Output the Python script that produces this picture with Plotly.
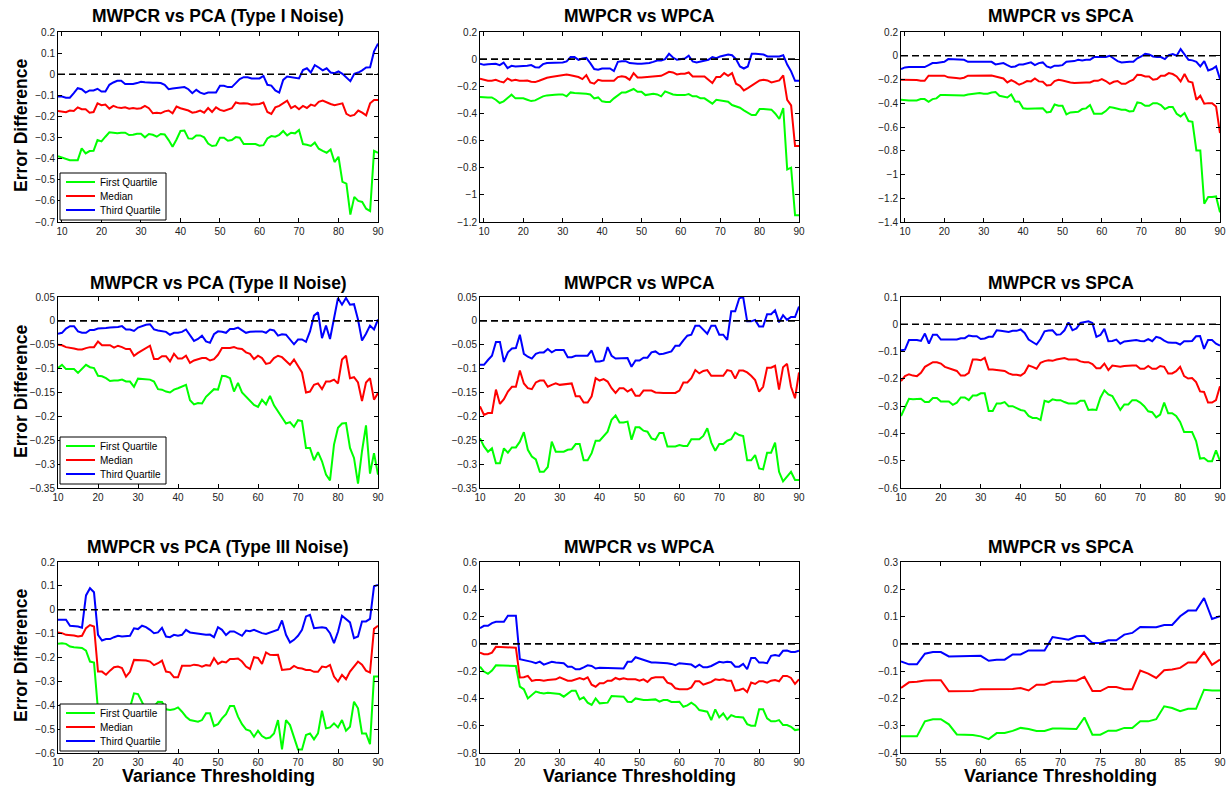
import plotly.graph_objects as go

# ---------------- data ----------------
x_row1 = list(range(9, 91))
x_full = list(range(10, 91))
x_r3c3 = list(range(50, 91))

legend_names = ["First Quartile", "Median", "Third Quartile"]
titles = ["MWPCR vs PCA (Type I Noise)", "MWPCR vs WPCA", "MWPCR vs SPCA",
          "MWPCR vs PCA (Type II Noise)", "MWPCR vs WPCA", "MWPCR vs SPCA",
          "MWPCR vs PCA (Type III Noise)", "MWPCR vs WPCA", "MWPCR vs SPCA"]
y_label = "Error Difference"
x_label = "Variance Thresholding"

# Row 1, col 1
q3_r1c1 = [-0.106, -0.106, -0.111, -0.111, -0.090, -0.066, -0.071, -0.087, -0.077, -0.077,
           -0.069, -0.082, -0.082, -0.050, -0.039, -0.031, -0.031, -0.046, -0.046, -0.046,
           -0.042, -0.036, -0.038, -0.040, -0.040, -0.040, -0.042, -0.050, -0.071, -0.068,
           -0.066, -0.061, -0.061, -0.071, -0.090, -0.074, -0.087, -0.093, -0.087, -0.087,
           -0.087, -0.055, -0.055, -0.061, -0.061, -0.042, -0.023, -0.014, -0.014, -0.020,
           -0.020, -0.020, -0.008, -0.050, -0.054, -0.077, -0.087, -0.027, -0.011, -0.014,
           -0.016, -0.020, 0.020, 0.028, 0.008, 0.043, 0.032, 0.018, 0.028, 0.008,
           0.005, 0.013, 0.002, -0.014, -0.033, 0.002, 0.008, 0.018, 0.032, 0.033,
           0.108, 0.145]
med_r1c1 = [-0.174, -0.177, -0.180, -0.172, -0.174, -0.157, -0.166, -0.166, -0.182, -0.179,
            -0.138, -0.147, -0.144, -0.163, -0.150, -0.157, -0.160, -0.157, -0.163, -0.160,
            -0.163, -0.161, -0.150, -0.161, -0.185, -0.182, -0.185, -0.176, -0.172, -0.185,
            -0.153, -0.161, -0.166, -0.172, -0.182, -0.179, -0.172, -0.182, -0.160, -0.179,
            -0.157, -0.169, -0.174, -0.169, -0.161, -0.134, -0.139, -0.138, -0.139, -0.144,
            -0.142, -0.141, -0.134, -0.179, -0.188, -0.157, -0.150, -0.138, -0.125, -0.161,
            -0.150, -0.166, -0.150, -0.160, -0.144, -0.150, -0.131, -0.125, -0.134, -0.141,
            -0.147, -0.141, -0.138, -0.188, -0.198, -0.193, -0.172, -0.182, -0.195, -0.138,
            -0.122, -0.122]
q1_r1c1 = [-0.388, -0.394, -0.400, -0.407, -0.407, -0.407, -0.351, -0.375, -0.364, -0.363,
           -0.312, -0.318, -0.296, -0.275, -0.277, -0.280, -0.277, -0.277, -0.288, -0.287,
           -0.282, -0.282, -0.299, -0.283, -0.287, -0.296, -0.283, -0.285, -0.312, -0.344,
           -0.309, -0.269, -0.267, -0.304, -0.306, -0.290, -0.290, -0.299, -0.328, -0.340,
           -0.337, -0.301, -0.301, -0.315, -0.312, -0.298, -0.301, -0.331, -0.331, -0.331,
           -0.331, -0.339, -0.336, -0.304, -0.293, -0.296, -0.287, -0.269, -0.290, -0.277,
           -0.280, -0.264, -0.331, -0.334, -0.340, -0.324, -0.353, -0.363, -0.372, -0.356,
           -0.416, -0.391, -0.510, -0.518, -0.665, -0.581, -0.600, -0.605, -0.637, -0.648,
           -0.363, -0.372]

# Row 1, col 2
q3_r1c2 = [-0.034, -0.042, -0.037, -0.034, -0.034, -0.044, -0.025, -0.066, -0.049, -0.054,
           -0.054, -0.049, -0.049, -0.044, -0.059, -0.061, -0.037, -0.029, -0.029, -0.027,
           -0.025, -0.025, -0.017, 0.015, 0.015, -0.005, 0.005, 0.010, -0.029, -0.073,
           -0.078, -0.069, -0.069, -0.069, -0.088, -0.020, -0.015, -0.015, -0.029, -0.034,
           -0.034, -0.034, -0.032, -0.029, -0.020, -0.010, -0.010, 0.000, 0.039, 0.012,
           -0.005, 0.000, 0.005, 0.025, -0.017, -0.025, -0.020, -0.015, -0.005, 0.015,
           0.007, 0.020, 0.025, 0.034, 0.029, 0.000, -0.054, -0.069, -0.054, 0.039,
           0.039, 0.034, 0.034, 0.020, 0.020, 0.020, 0.020, 0.029, -0.040, -0.090,
           -0.160, -0.160]
med_r1c2 = [-0.145, -0.152, -0.159, -0.159, -0.152, -0.164, -0.172, -0.142, -0.159, -0.152,
            -0.159, -0.159, -0.157, -0.167, -0.169, -0.159, -0.145, -0.137, -0.132, -0.127,
            -0.127, -0.118, -0.113, -0.118, -0.127, -0.132, -0.147, -0.118, -0.172, -0.181,
            -0.152, -0.159, -0.159, -0.159, -0.159, -0.132, -0.127, -0.132, -0.152, -0.103,
            -0.135, -0.135, -0.132, -0.130, -0.127, -0.127, -0.123, -0.108, -0.093, -0.098,
            -0.113, -0.108, -0.108, -0.098, -0.127, -0.127, -0.127, -0.127, -0.152, -0.176,
            -0.132, -0.132, -0.103, -0.123, -0.103, -0.181, -0.196, -0.230, -0.213, -0.196,
            -0.176, -0.157, -0.152, -0.157, -0.172, -0.167, -0.157, -0.120, -0.300, -0.340,
            -0.640, -0.640]
q1_r1c2 = [-0.279, -0.282, -0.282, -0.282, -0.299, -0.323, -0.311, -0.287, -0.262, -0.289,
           -0.289, -0.289, -0.299, -0.309, -0.304, -0.289, -0.274, -0.267, -0.262, -0.262,
           -0.260, -0.260, -0.274, -0.245, -0.250, -0.250, -0.255, -0.255, -0.260, -0.289,
           -0.282, -0.311, -0.316, -0.316, -0.289, -0.270, -0.245, -0.245, -0.235, -0.220,
           -0.240, -0.240, -0.265, -0.260, -0.255, -0.260, -0.274, -0.238, -0.250, -0.260,
           -0.265, -0.265, -0.265, -0.257, -0.274, -0.274, -0.289, -0.289, -0.311, -0.328,
           -0.299, -0.304, -0.314, -0.314, -0.338, -0.348, -0.358, -0.377, -0.392, -0.412,
           -0.412, -0.368, -0.368, -0.372, -0.372, -0.402, -0.441, -0.360, -0.813, -0.800,
           -1.150, -1.150]

# Row 1, col 3
q3_r1c3 = [-0.112, -0.098, -0.095, -0.095, -0.095, -0.095, -0.095, -0.079, -0.062, -0.062,
           -0.056, -0.051, -0.028, -0.028, -0.028, -0.028, -0.034, -0.051, -0.051, -0.051,
           -0.051, -0.056, -0.056, -0.051, -0.073, -0.067, -0.062, -0.079, -0.095, -0.090,
           -0.073, -0.073, -0.062, -0.056, -0.079, -0.062, -0.056, -0.090, -0.101, -0.084,
           -0.084, -0.079, -0.051, -0.051, -0.045, -0.034, -0.039, -0.034, -0.034, -0.011,
           -0.011, -0.011, -0.011, 0.000, -0.022, -0.045, -0.056, -0.051, -0.051, -0.051,
           -0.022, -0.006, 0.017, 0.011, -0.006, -0.011, -0.011, -0.028, 0.006, 0.014,
           0.000, 0.056, 0.011, -0.034, -0.039, -0.051, -0.090, -0.045, -0.124, -0.112,
           -0.090, -0.196]
med_r1c3 = [-0.202, -0.202, -0.202, -0.202, -0.205, -0.211, -0.211, -0.168, -0.168, -0.168,
            -0.168, -0.168, -0.182, -0.182, -0.188, -0.191, -0.185, -0.168, -0.168, -0.168,
            -0.168, -0.168, -0.168, -0.166, -0.174, -0.180, -0.191, -0.225, -0.205, -0.222,
            -0.244, -0.230, -0.213, -0.216, -0.191, -0.216, -0.219, -0.250, -0.247, -0.213,
            -0.202, -0.208, -0.219, -0.225, -0.230, -0.227, -0.227, -0.225, -0.225, -0.211,
            -0.211, -0.196, -0.213, -0.236, -0.219, -0.213, -0.236, -0.236, -0.216, -0.202,
            -0.160, -0.163, -0.174, -0.174, -0.202, -0.196, -0.168, -0.168, -0.146, -0.154,
            -0.174, -0.216, -0.154, -0.216, -0.225, -0.371, -0.337, -0.404, -0.399, -0.399,
            -0.427, -0.651]
q1_r1c3 = [-0.371, -0.376, -0.376, -0.376, -0.376, -0.365, -0.365, -0.387, -0.365, -0.359,
           -0.331, -0.331, -0.331, -0.331, -0.331, -0.334, -0.334, -0.326, -0.320, -0.314,
           -0.314, -0.320, -0.320, -0.309, -0.306, -0.337, -0.342, -0.351, -0.326, -0.385,
           -0.387, -0.443, -0.446, -0.446, -0.446, -0.441, -0.443, -0.477, -0.472, -0.410,
           -0.421, -0.421, -0.494, -0.477, -0.472, -0.472, -0.449, -0.443, -0.415, -0.488,
           -0.488, -0.488, -0.466, -0.432, -0.438, -0.449, -0.455, -0.455, -0.469, -0.466,
           -0.393, -0.399, -0.421, -0.421, -0.399, -0.399, -0.415, -0.449, -0.432, -0.432,
           -0.488, -0.511, -0.483, -0.550, -0.556, -0.797, -0.797, -1.246, -1.190, -1.190,
           -1.185, -1.319]

# Row 2, col 1
q3_r2c1 = [-0.027, -0.025, -0.016, -0.011, -0.011, -0.022, -0.025, -0.025, -0.019, -0.019,
           -0.016, -0.016, -0.015, -0.014, -0.014, -0.013, -0.011, -0.018, -0.018, -0.021,
           -0.014, -0.011, -0.008, -0.007, -0.018, -0.020, -0.021, -0.023, -0.029, -0.025,
           -0.025, -0.023, -0.018, -0.031, -0.042, -0.038, -0.031, -0.043, -0.046, -0.028,
           -0.022, -0.023, -0.025, -0.017, -0.017, -0.014, -0.020, -0.025, -0.023, -0.022,
           -0.022, -0.022, -0.025, -0.018, -0.020, -0.031, -0.028, -0.029, -0.038, -0.049,
           -0.039, -0.039, -0.044, -0.022, 0.011, 0.018, -0.036, -0.010, -0.038, 0.004,
           0.048, 0.034, 0.048, 0.034, 0.035, 0.003, -0.041, -0.027, -0.010, -0.018,
           0.003]
med_r2c1 = [-0.050, -0.051, -0.055, -0.056, -0.058, -0.060, -0.060, -0.057, -0.055, -0.055,
            -0.043, -0.051, -0.051, -0.051, -0.056, -0.052, -0.055, -0.059, -0.059, -0.073,
            -0.067, -0.062, -0.058, -0.052, -0.080, -0.080, -0.074, -0.074, -0.085, -0.069,
            -0.079, -0.079, -0.073, -0.088, -0.083, -0.080, -0.078, -0.078, -0.083, -0.080,
            -0.071, -0.057, -0.057, -0.057, -0.055, -0.058, -0.059, -0.066, -0.069, -0.080,
            -0.073, -0.078, -0.090, -0.088, -0.078, -0.073, -0.076, -0.085, -0.092, -0.081,
            -0.095, -0.108, -0.150, -0.148, -0.134, -0.131, -0.143, -0.127, -0.127, -0.123,
            -0.131, -0.081, -0.073, -0.120, -0.118, -0.129, -0.168, -0.129, -0.120, -0.165,
            -0.151]
q1_r2c1 = [-0.099, -0.092, -0.101, -0.101, -0.101, -0.109, -0.101, -0.092, -0.097, -0.099,
           -0.115, -0.116, -0.120, -0.126, -0.125, -0.125, -0.123, -0.127, -0.127, -0.138,
           -0.121, -0.122, -0.123, -0.123, -0.127, -0.143, -0.144, -0.148, -0.150, -0.144,
           -0.141, -0.137, -0.134, -0.166, -0.175, -0.172, -0.173, -0.159, -0.151, -0.143,
           -0.144, -0.115, -0.116, -0.120, -0.148, -0.130, -0.150, -0.158, -0.168, -0.176,
           -0.180, -0.165, -0.175, -0.157, -0.177, -0.189, -0.201, -0.215, -0.212, -0.222,
           -0.208, -0.210, -0.266, -0.266, -0.292, -0.275, -0.294, -0.322, -0.334, -0.259,
           -0.224, -0.215, -0.214, -0.266, -0.287, -0.341, -0.273, -0.219, -0.320, -0.277,
           -0.322]

# Row 2, col 2
q3_r2c2 = [-0.092, -0.092, -0.082, -0.073, -0.044, -0.044, -0.086, -0.066, -0.058, -0.057,
           -0.029, -0.069, -0.075, -0.079, -0.069, -0.066, -0.066, -0.059, -0.066, -0.061,
           -0.061, -0.061, -0.076, -0.076, -0.073, -0.073, -0.073, -0.073, -0.062, -0.085,
           -0.085, -0.083, -0.055, -0.073, -0.079, -0.079, -0.079, -0.078, -0.096, -0.083,
           -0.083, -0.077, -0.077, -0.066, -0.064, -0.070, -0.069, -0.066, -0.064, -0.052,
           -0.052, -0.041, -0.031, -0.029, -0.010, -0.010, -0.019, -0.027, -0.010, -0.010,
           -0.029, -0.029, -0.040, 0.020, 0.020, 0.047, 0.050, -0.001, -0.001, 0.002,
           -0.012, -0.012, 0.014, 0.014, 0.022, -0.003, 0.012, 0.002, 0.008, 0.008,
           0.030]
med_r2c2 = [-0.179, -0.197, -0.193, -0.193, -0.144, -0.174, -0.164, -0.148, -0.138, -0.138,
            -0.104, -0.131, -0.141, -0.143, -0.129, -0.125, -0.125, -0.138, -0.134, -0.131,
            -0.134, -0.133, -0.131, -0.131, -0.158, -0.158, -0.171, -0.171, -0.158, -0.120,
            -0.125, -0.122, -0.127, -0.141, -0.151, -0.141, -0.141, -0.148, -0.143, -0.157,
            -0.157, -0.146, -0.146, -0.146, -0.150, -0.151, -0.151, -0.151, -0.151, -0.151,
            -0.146, -0.129, -0.129, -0.120, -0.103, -0.110, -0.105, -0.103, -0.115, -0.115,
            -0.115, -0.115, -0.103, -0.105, -0.121, -0.104, -0.104, -0.108, -0.115, -0.124,
            -0.148, -0.138, -0.098, -0.098, -0.094, -0.144, -0.097, -0.090, -0.138, -0.162,
            -0.108]
q1_r2c2 = [-0.246, -0.263, -0.274, -0.267, -0.298, -0.298, -0.267, -0.276, -0.265, -0.265,
           -0.253, -0.233, -0.270, -0.284, -0.290, -0.316, -0.316, -0.306, -0.253, -0.274,
           -0.274, -0.274, -0.270, -0.269, -0.258, -0.258, -0.292, -0.292, -0.277, -0.251,
           -0.251, -0.241, -0.232, -0.207, -0.198, -0.213, -0.213, -0.211, -0.249, -0.223,
           -0.223, -0.230, -0.232, -0.246, -0.249, -0.235, -0.235, -0.263, -0.263, -0.263,
           -0.260, -0.262, -0.262, -0.248, -0.248, -0.248, -0.241, -0.225, -0.255, -0.272,
           -0.258, -0.258, -0.251, -0.248, -0.234, -0.239, -0.241, -0.292, -0.292, -0.281,
           -0.309, -0.311, -0.276, -0.276, -0.255, -0.316, -0.336, -0.326, -0.316, -0.333,
           -0.333]

# Row 2, col 3
q3_r2c3 = [-0.095, -0.093, -0.058, -0.058, -0.058, -0.061, -0.034, -0.071, -0.038, -0.038,
           -0.056, -0.056, -0.056, -0.056, -0.056, -0.051, -0.051, -0.041, -0.044, -0.044,
           -0.054, -0.052, -0.046, -0.046, -0.022, -0.024, -0.026, -0.028, -0.024, -0.024,
           -0.019, -0.032, -0.056, -0.066, -0.074, -0.054, -0.026, -0.023, -0.022, -0.038,
           -0.037, -0.022, 0.007, -0.022, -0.015, 0.005, 0.007, 0.011, 0.005, -0.046,
           -0.039, -0.017, -0.062, -0.061, -0.056, -0.071, -0.063, -0.061, -0.058, -0.058,
           -0.061, -0.062, -0.054, -0.062, -0.046, -0.050, -0.060, -0.067, -0.068, -0.068,
           -0.074, -0.062, -0.062, -0.061, -0.044, -0.043, -0.090, -0.058, -0.058, -0.071,
           -0.078]
med_r2c3 = [-0.208, -0.190, -0.183, -0.188, -0.190, -0.178, -0.156, -0.149, -0.139, -0.139,
            -0.144, -0.156, -0.161, -0.168, -0.171, -0.188, -0.188, -0.178, -0.129, -0.129,
            -0.132, -0.123, -0.166, -0.166, -0.168, -0.171, -0.171, -0.180, -0.185, -0.185,
            -0.188, -0.178, -0.151, -0.156, -0.163, -0.141, -0.135, -0.132, -0.134, -0.129,
            -0.127, -0.124, -0.129, -0.129, -0.129, -0.136, -0.139, -0.139, -0.146, -0.161,
            -0.161, -0.144, -0.168, -0.151, -0.153, -0.156, -0.153, -0.151, -0.151, -0.151,
            -0.163, -0.163, -0.153, -0.163, -0.163, -0.153, -0.156, -0.180, -0.180, -0.172,
            -0.156, -0.190, -0.199, -0.197, -0.212, -0.246, -0.248, -0.287, -0.287, -0.278,
            -0.227]
q1_r2c3 = [-0.336, -0.302, -0.273, -0.275, -0.275, -0.273, -0.285, -0.285, -0.270, -0.270,
           -0.283, -0.283, -0.283, -0.295, -0.287, -0.268, -0.268, -0.278, -0.261, -0.261,
           -0.253, -0.253, -0.318, -0.318, -0.290, -0.290, -0.285, -0.300, -0.300, -0.307,
           -0.314, -0.317, -0.336, -0.343, -0.343, -0.351, -0.280, -0.285, -0.275, -0.278,
           -0.278, -0.285, -0.290, -0.290, -0.290, -0.280, -0.280, -0.314, -0.312, -0.314,
           -0.269, -0.242, -0.257, -0.263, -0.290, -0.314, -0.294, -0.294, -0.278, -0.278,
           -0.287, -0.300, -0.319, -0.322, -0.341, -0.331, -0.287, -0.326, -0.326, -0.336,
           -0.358, -0.395, -0.395, -0.395, -0.428, -0.492, -0.490, -0.502, -0.502, -0.462,
           -0.501]

# Row 3, col 1
q3_r3c1 = [-0.042, -0.042, -0.042, -0.067, -0.067, -0.070, -0.075, 0.060, 0.090, 0.073,
           -0.105, -0.129, -0.123, -0.123, -0.115, -0.109, -0.112, -0.109, -0.109, -0.078,
           -0.081, -0.067, -0.073, -0.084, -0.098, -0.095, -0.076, -0.112, -0.115, -0.105,
           -0.109, -0.105, -0.084, -0.095, -0.098, -0.098, -0.104, -0.105, -0.104, -0.115,
           -0.073, -0.084, -0.106, -0.091, -0.091, -0.101, -0.109, -0.087, -0.090, -0.084,
           -0.091, -0.098, -0.101, -0.095, -0.087, -0.084, -0.045, -0.105, -0.137, -0.126,
           -0.109, -0.084, -0.028, -0.021, -0.077, -0.076, -0.073, -0.076, -0.098, -0.140,
           -0.092, -0.025, -0.039, -0.053, -0.119, -0.112, -0.049, -0.049, -0.038, 0.098,
           0.104]
med_r3c1 = [-0.095, -0.098, -0.105, -0.106, -0.108, -0.112, -0.109, -0.077, -0.064, -0.070,
            -0.259, -0.259, -0.272, -0.255, -0.241, -0.238, -0.244, -0.280, -0.260, -0.210,
            -0.210, -0.210, -0.213, -0.217, -0.232, -0.224, -0.213, -0.259, -0.262, -0.283,
            -0.283, -0.235, -0.234, -0.235, -0.230, -0.232, -0.238, -0.232, -0.234, -0.203,
            -0.227, -0.217, -0.221, -0.206, -0.206, -0.204, -0.217, -0.238, -0.248, -0.199,
            -0.202, -0.227, -0.179, -0.189, -0.190, -0.189, -0.252, -0.249, -0.248, -0.235,
            -0.244, -0.246, -0.252, -0.252, -0.260, -0.260, -0.238, -0.241, -0.231, -0.280,
            -0.301, -0.273, -0.291, -0.259, -0.238, -0.217, -0.230, -0.255, -0.263, -0.080,
            -0.067]
q1_r3c1 = [-0.143, -0.140, -0.143, -0.154, -0.157, -0.157, -0.160, -0.171, -0.217, -0.221,
           -0.420, -0.440, -0.450, -0.430, -0.440, -0.420, -0.430, -0.440, -0.410, -0.350,
           -0.353, -0.385, -0.420, -0.409, -0.406, -0.385, -0.386, -0.417, -0.420, -0.417,
           -0.409, -0.427, -0.448, -0.462, -0.466, -0.469, -0.462, -0.434, -0.434, -0.487,
           -0.479, -0.455, -0.437, -0.403, -0.403, -0.448, -0.479, -0.501, -0.507, -0.532,
           -0.507, -0.529, -0.539, -0.535, -0.518, -0.462, -0.585, -0.462, -0.483, -0.532,
           -0.585, -0.585, -0.525, -0.518, -0.543, -0.518, -0.423, -0.497, -0.493, -0.476,
           -0.493, -0.462, -0.507, -0.490, -0.385, -0.413, -0.518, -0.518, -0.563, -0.280,
           -0.280]

# Row 3, col 2
q3_r3c2 = [0.115, 0.132, 0.132, 0.152, 0.162, 0.162, 0.162, 0.206, 0.206, 0.206,
           -0.113, -0.118, -0.123, -0.132, -0.142, -0.130, -0.152, -0.142, -0.132, -0.137,
           -0.137, -0.142, -0.167, -0.167, -0.186, -0.186, -0.172, -0.157, -0.162, -0.181,
           -0.176, -0.176, -0.176, -0.176, -0.176, -0.176, -0.181, -0.132, -0.132, -0.098,
           -0.108, -0.113, -0.127, -0.137, -0.137, -0.137, -0.137, -0.142, -0.147, -0.157,
           -0.142, -0.147, -0.147, -0.152, -0.172, -0.152, -0.172, -0.172, -0.162, -0.147,
           -0.132, -0.137, -0.132, -0.135, -0.167, -0.167, -0.147, -0.186, -0.103, -0.103,
           -0.137, -0.137, -0.142, -0.088, -0.081, -0.088, -0.051, -0.049, -0.059, -0.059,
           -0.051]
med_r3c2 = [-0.064, -0.076, -0.076, -0.064, -0.022, -0.022, -0.022, -0.022, -0.027, -0.029,
            -0.247, -0.245, -0.235, -0.272, -0.265, -0.265, -0.270, -0.265, -0.260, -0.260,
            -0.245, -0.255, -0.270, -0.270, -0.260, -0.250, -0.260, -0.245, -0.299, -0.314,
            -0.289, -0.289, -0.270, -0.270, -0.250, -0.260, -0.252, -0.260, -0.260, -0.260,
            -0.270, -0.260, -0.279, -0.252, -0.245, -0.245, -0.245, -0.284, -0.294, -0.326,
            -0.333, -0.333, -0.333, -0.319, -0.274, -0.274, -0.299, -0.289, -0.279, -0.260,
            -0.265, -0.260, -0.270, -0.270, -0.343, -0.338, -0.328, -0.353, -0.284, -0.294,
            -0.274, -0.274, -0.284, -0.270, -0.265, -0.274, -0.235, -0.235, -0.250, -0.294,
            -0.260]
q1_r3c2 = [-0.167, -0.203, -0.220, -0.196, -0.157, -0.157, -0.157, -0.157, -0.162, -0.162,
           -0.314, -0.333, -0.400, -0.375, -0.350, -0.358, -0.363, -0.358, -0.363, -0.363,
           -0.368, -0.387, -0.363, -0.343, -0.343, -0.407, -0.392, -0.431, -0.448, -0.400,
           -0.436, -0.431, -0.431, -0.382, -0.382, -0.382, -0.387, -0.424, -0.426, -0.400,
           -0.407, -0.412, -0.412, -0.412, -0.407, -0.424, -0.412, -0.412, -0.426, -0.426,
           -0.424, -0.461, -0.451, -0.431, -0.451, -0.485, -0.490, -0.497, -0.559, -0.480,
           -0.539, -0.510, -0.554, -0.522, -0.534, -0.539, -0.539, -0.588, -0.600, -0.600,
           -0.480, -0.480, -0.546, -0.568, -0.568, -0.559, -0.595, -0.595, -0.608, -0.632,
           -0.627]

# Row 3, col 3 (thresholds 50..90)
q3_r3c3 = [-0.064, -0.075, -0.075, -0.036, -0.030, -0.030, -0.046, -0.046, -0.046, -0.046,
           -0.044, -0.062, -0.058, -0.058, -0.039, -0.039, -0.024, -0.024, -0.024, 0.025,
           0.020, 0.015, 0.028, 0.030, 0.003, 0.003, 0.013, 0.013, 0.034, 0.040,
           0.062, 0.061, 0.061, 0.069, 0.069, 0.101, 0.122, 0.122, 0.168, 0.091,
           0.101]
med_r3c3 = [-0.162, -0.141, -0.139, -0.134, -0.133, -0.133, -0.174, -0.174, -0.173, -0.173,
            -0.166, -0.166, -0.165, -0.165, -0.165, -0.162, -0.171, -0.150, -0.150, -0.139,
            -0.139, -0.135, -0.135, -0.121, -0.173, -0.173, -0.158, -0.158, -0.166, -0.166,
            -0.098, -0.109, -0.125, -0.097, -0.094, -0.088, -0.068, -0.068, -0.031, -0.077,
            -0.058]
q1_r3c3 = [-0.339, -0.339, -0.339, -0.284, -0.276, -0.276, -0.295, -0.332, -0.334, -0.334,
           -0.339, -0.349, -0.327, -0.327, -0.319, -0.308, -0.312, -0.319, -0.319, -0.310,
           -0.310, -0.312, -0.312, -0.270, -0.333, -0.333, -0.318, -0.318, -0.308, -0.308,
           -0.284, -0.284, -0.276, -0.229, -0.235, -0.247, -0.238, -0.238, -0.168, -0.171,
           -0.171]

# axis settings per panel
x_ranges = [[9, 90], [9, 90], [9, 90],
            [10, 90], [10, 90], [10, 90],
            [10, 90], [10, 90], [50, 90]]
x_dticks = [10, 10, 10, 10, 10, 10, 10, 10, 5]
y_ranges = [[-0.7, 0.2], [-1.2, 0.2], [-1.4, 0.2],
            [-0.35, 0.05], [-0.35, 0.05], [-0.6, 0.1],
            [-0.6, 0.2], [-0.8, 0.6], [-0.4, 0.3]]
y_dticks = [0.1, 0.2, 0.2, 0.05, 0.05, 0.1, 0.1, 0.2, 0.1]

xs = [x_row1, x_row1, x_row1, x_full, x_full, x_full, x_full, x_full, x_r3c3]
q1s = [q1_r1c1, q1_r1c2, q1_r1c3, q1_r2c1, q1_r2c2, q1_r2c3, q1_r3c1, q1_r3c2, q1_r3c3]
meds = [med_r1c1, med_r1c2, med_r1c3, med_r2c1, med_r2c2, med_r2c3, med_r3c1, med_r3c2, med_r3c3]
q3s = [q3_r1c1, q3_r1c2, q3_r1c3, q3_r2c1, q3_r2c2, q3_r2c3, q3_r3c1, q3_r3c2, q3_r3c3]

# ---------------- layout geometry (page pixels) ----------------
W, H = 1228, 789
col_px = [(58, 378), (480, 799), (901, 1220)]
row_px = [(32, 222), (297, 488), (562, 753)]
title_y_px = [16, 283, 547]
ylabel_y_px = [125, 391, 655]
legend_top_px = [173, 437, 704]
LEG_X0, LEG_X1 = 60, 166
LEG_H = 47
LEG_ITEM_DY = [9, 23, 37]


def fx(p):
    return p / W


def fy(p):
    return 1 - p / H


colors = ["#00ff00", "#ff0000", "#0000ff"]
FONT = "Liberation Sans, Arial, Helvetica, sans-serif"

fig = go.Figure()
layout = dict(width=W, height=H, margin=dict(l=0, r=0, t=0, b=0, autoexpand=False),
              paper_bgcolor="white", plot_bgcolor="white", showlegend=False,
              font=dict(family=FONT, color="#000"), annotations=[], shapes=[])

for i in range(9):
    r, c = divmod(i, 3)
    k = "" if i == 0 else str(i + 1)
    xa, ya = "x" + k, "y" + k
    for series, name, col in zip([q1s[i], meds[i], q3s[i]], legend_names, colors):
        fig.add_trace(go.Scatter(
            x=xs[i], y=series, mode="lines", name=name,
            line=dict(color=col, width=2),
            xaxis=xa, yaxis=ya, hoverinfo="skip"))
    fig.add_trace(go.Scatter(
        x=x_ranges[i], y=[0, 0], mode="lines", name="zero",
        line=dict(color="black", width=1.6, dash="7px,4px"),
        xaxis=xa, yaxis=ya, hoverinfo="skip"))

    x0, x1 = col_px[c]
    y0, y1 = row_px[r]
    common = dict(showline=True, linecolor="black", linewidth=1, mirror="ticks",
                  ticks="inside", ticklen=4, tickcolor="black", tickwidth=1,
                  showgrid=False, zeroline=False, automargin=False,
                  tickfont=dict(family=FONT, size=10, color="#222"))
    layout["xaxis" + k] = dict(domain=[fx(x0), fx(x1)], range=x_ranges[i],
                               tick0=x_ranges[i][0] if x_dticks[i] == 5 else 10,
                               dtick=x_dticks[i], anchor=ya, **common)
    layout["yaxis" + k] = dict(domain=[fy(y1), fy(y0)], range=y_ranges[i],
                               tick0=0, dtick=y_dticks[i], anchor=xa, **common)
    layout["annotations"].append(dict(
        text="<b>" + titles[i] + "</b>", x=fx((x0 + x1) / 2), y=fy(title_y_px[r]),
        xref="paper", yref="paper", showarrow=False, xanchor="center", yanchor="middle",
        font=dict(family=FONT, size=17.5, color="black")))
    if c == 0:
        layout["annotations"].append(dict(
            text="<b>" + y_label + "</b>", x=fx(21), y=fy(ylabel_y_px[r]),
            xref="paper", yref="paper", showarrow=False, textangle=-90,
            xanchor="center", yanchor="middle",
            font=dict(family=FONT, size=17.5, color="black")))
    if r == 2:
        layout["annotations"].append(dict(
            text="<b>" + x_label + "</b>", x=fx((x0 + x1) / 2), y=fy(776),
            xref="paper", yref="paper", showarrow=False,
            xanchor="center", yanchor="middle",
            font=dict(family=FONT, size=18, color="black")))

# legend boxes (drawn in the first-column panels, like the MATLAB legends)
for r in range(3):
    top = legend_top_px[r]
    layout["shapes"].append(dict(
        type="rect", xref="paper", yref="paper",
        x0=fx(LEG_X0), x1=fx(LEG_X1), y0=fy(top + LEG_H), y1=fy(top),
        fillcolor="white", line=dict(color="black", width=1), layer="above"))
    for name, col, dy in zip(legend_names, colors, LEG_ITEM_DY):
        yy = fy(top + dy)
        layout["shapes"].append(dict(
            type="line", xref="paper", yref="paper",
            x0=fx(66), x1=fx(95), y0=yy, y1=yy,
            line=dict(color=col, width=2), layer="above"))
        layout["annotations"].append(dict(
            text=name, x=fx(98), y=yy, xref="paper", yref="paper",
            showarrow=False, xanchor="left", yanchor="middle",
            font=dict(family=FONT, size=10, color="black")))

fig.update_layout(**layout)
fig.write_html("out.html",
               config={"displayModeBar": False},
               post_script="document.body.style.margin='0px';"
                           "document.body.style.overflow='hidden';")
